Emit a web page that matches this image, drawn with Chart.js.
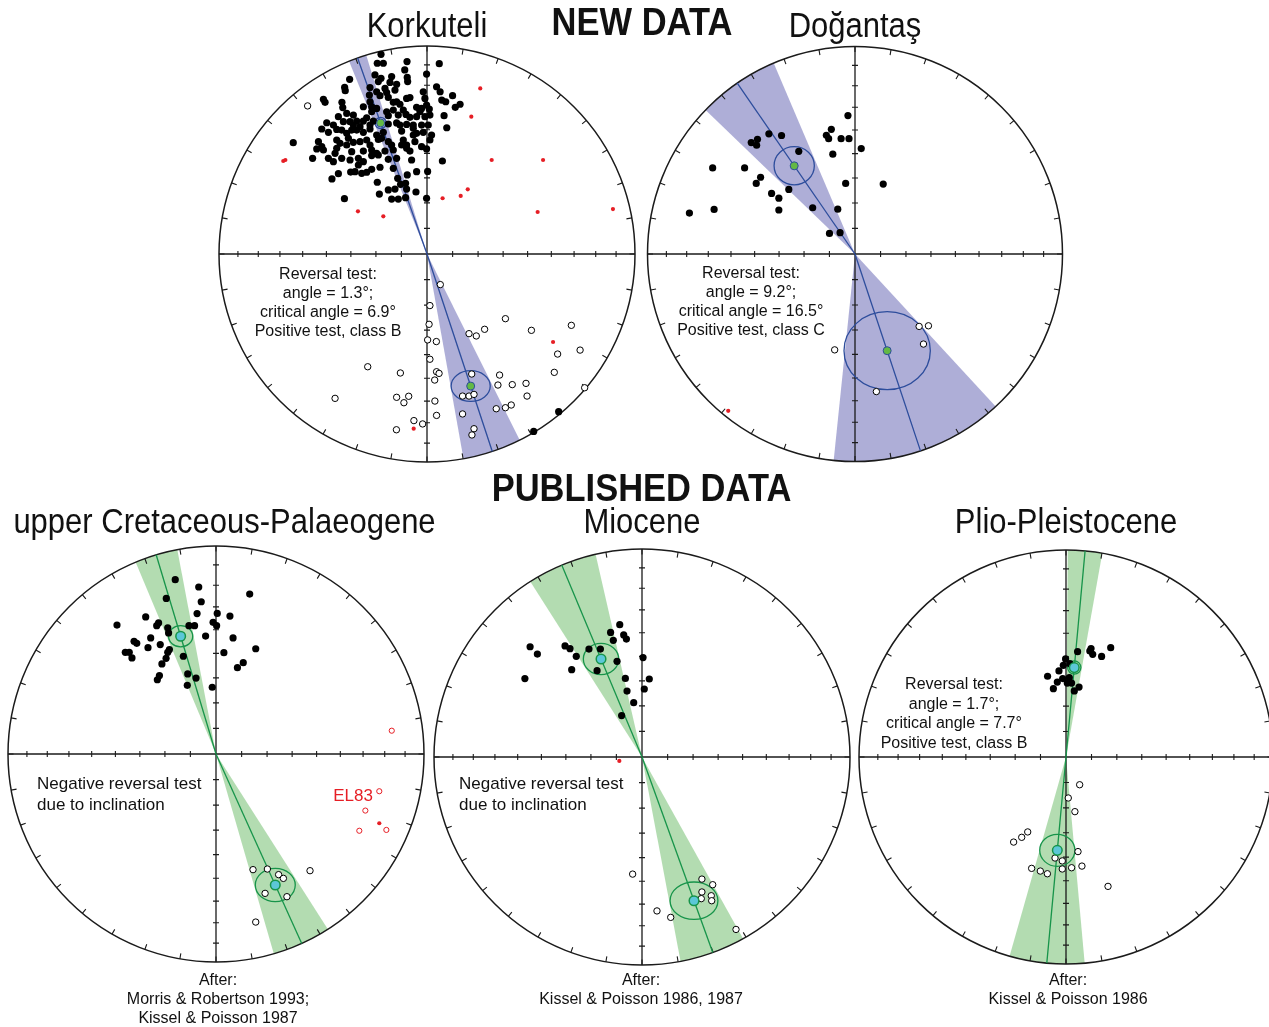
<!DOCTYPE html>
<html>
<head>
<meta charset="utf-8">
<title>Palaeomagnetic directions – reversal tests</title>
<script src="https://cdn.jsdelivr.net/npm/chart.js@4.4.1/dist/chart.umd.min.js"></script>
<style>
  html, body { margin: 0; padding: 0; background: #fff; overflow: hidden; }
  #page { position: relative; width: 1269px; height: 1027px; overflow: hidden;
          font-family: "Liberation Sans", Arial, Helvetica, sans-serif; color: #111; }
  canvas.net { position: absolute; }
  .t { position: absolute; white-space: nowrap; line-height: 1; transform: translate(-50%, -50%); }
  .title { font-size: 31px; transform: translate(-50%, -50%) scaleY(1.12); }
  .head { font-size: 34.5px; font-weight: bold; transform: translate(-50%, -50%) scaleY(1.1); }
  .note { position: absolute; white-space: nowrap; font-size: 16px; line-height: 19px;
          text-align: center; transform: translateX(-50%); }
  .neg { position: absolute; white-space: nowrap; font-size: 17px; line-height: 21px; }
</style>
</head>
<body>
<div id="page">
  <canvas class="net" id="korkuteli" width="440" height="440" style="left:207px;top:34px"></canvas>
  <canvas class="net" id="dogantas" width="440" height="440" style="left:635px;top:34px"></canvas>
  <canvas class="net" id="upperCret" width="440" height="440" style="left:-4px;top:534px"></canvas>
  <canvas class="net" id="miocene" width="440" height="440" style="left:422px;top:537px"></canvas>
  <canvas class="net" id="plio" width="440" height="440" style="left:846px;top:537px"></canvas>

  <div class="t title" style="left:427px;top:25px">Korkuteli</div>
  <div class="t head" style="left:642px;top:22px">NEW DATA</div>
  <div class="t title" style="left:855px;top:25px">Doğantaş</div>
  <div class="t head" style="left:641.5px;top:488px">PUBLISHED DATA</div>
  <div class="t title" style="left:224.5px;top:521px">upper Cretaceous-Palaeogene</div>
  <div class="t title" style="left:642px;top:521px">Miocene</div>
  <div class="t title" style="left:1066px;top:521px">Plio-Pleistocene</div>

  <div class="note" style="left:328px;top:263.5px">Reversal test:<br>angle = 1.3°;<br>critical angle = 6.9°<br>Positive test, class B</div>
  <div class="note" style="left:751px;top:262.5px">Reversal test:<br>angle = 9.2°;<br>critical angle = 16.5°<br>Positive test, class C</div>
  <div class="note" style="left:954px;top:674px;line-height:19.6px">Reversal test:<br>angle = 1.7°;<br>critical angle = 7.7°<br>Positive test, class B</div>
  <div class="neg" style="left:37px;top:772.5px">Negative reversal test<br>due to inclination</div>
  <div class="neg" style="left:459px;top:772.5px">Negative reversal test<br>due to inclination</div>
  <div class="t" style="left:353px;top:795px;font-size:17px;color:#e61e25">EL83</div>
  <div class="note" style="left:218px;top:969.5px">After:<br>Morris &amp; Robertson 1993;<br>Kissel &amp; Poisson 1987</div>
  <div class="note" style="left:641px;top:969.5px">After:<br>Kissel &amp; Poisson 1986, 1987</div>
  <div class="note" style="left:1068px;top:969.5px">After:<br>Kissel &amp; Poisson 1986</div>
</div>

<script>
// Equal-area projection coordinates (east, north) on the unit primitive circle.
// Filled = lower hemisphere (normal), open = upper hemisphere (reversed).

const declinationTicks = [0, 10, 20, 30, 40, 50, 60, 70, 80, 90, 100, 110, 120, 130, 140, 150, 160, 170,
  180, 190, 200, 210, 220, 230, 240, 250, 260, 270, 280, 290, 300, 310, 320, 330, 340, 350];
const inclinationTicks = [10, 20, 30, 40, 50, 60, 70, 80];

// ---- Korkuteli ----
const korkNormal = [
  [-0.221,0.960],[-0.239,0.917],[-0.210,0.917],[-0.096,0.925],[0.059,0.915],[-0.107,0.885],[-0.002,0.865],[-0.250,0.861],[-0.221,0.845],[-0.170,0.853],
  [-0.095,0.849],[-0.372,0.840],[-0.234,0.829],[-0.178,0.825],[-0.146,0.816],[-0.093,0.829],[-0.396,0.801],[-0.393,0.785],[-0.274,0.800],[-0.202,0.796],
  [-0.154,0.788],[-0.242,0.780],[-0.194,0.776],[0.046,0.804],[0.063,0.780],[-0.018,0.780],[-0.082,0.752],[-0.498,0.744],[-0.490,0.729],[-0.277,0.764],
  [-0.226,0.761],[-0.186,0.753],[-0.098,0.748],[-0.010,0.748],[0.071,0.740],[0.123,0.761],[0.090,0.732],[0.159,0.720],[0.136,0.705],[-0.409,0.729],
  [-0.405,0.704],[-0.306,0.708],[-0.274,0.732],[-0.266,0.708],[-0.242,0.700],[-0.162,0.729],[-0.146,0.732],[-0.130,0.720],[-0.050,0.705],[-0.026,0.700],
  [-0.002,0.716],[0.011,0.697],[-0.162,0.692],[-0.114,0.692],[-0.101,0.671],[0.082,0.665],[-0.386,0.676],[-0.426,0.660],[-0.354,0.668],[-0.290,0.655],
  [-0.266,0.684],[-0.194,0.684],[-0.186,0.665],[-0.138,0.668],[-0.050,0.660],[-0.010,0.660],[0.014,0.668],[-0.082,0.657],[-0.482,0.631],[-0.450,0.620],
  [-0.402,0.636],[-0.370,0.636],[-0.338,0.639],[-0.306,0.639],[-0.274,0.620],[-0.258,0.639],[-0.186,0.625],[-0.146,0.630],[-0.098,0.623],[-0.066,0.620],
  [-0.026,0.620],[0.006,0.620],[0.095,0.607],[-0.506,0.601],[-0.474,0.585],[-0.434,0.599],[-0.362,0.596],[-0.338,0.596],[-0.306,0.585],[-0.274,0.601],
  [-0.242,0.572],[-0.210,0.585],[-0.122,0.591],[-0.066,0.604],[-0.050,0.580],[-0.018,0.585],[0.022,0.572],[0.014,0.548],[-0.643,0.535],[-0.522,0.540],
  [-0.506,0.516],[-0.434,0.548],[-0.418,0.532],[-0.378,0.556],[-0.354,0.537],[-0.322,0.540],[-0.290,0.548],[-0.234,0.551],[-0.186,0.540],[-0.114,0.548],
  [-0.098,0.524],[-0.058,0.540],[-0.026,0.516],[-0.530,0.505],[-0.498,0.500],[-0.434,0.508],[-0.442,0.484],[-0.362,0.492],[-0.306,0.495],[-0.266,0.500],
  [-0.242,0.484],[-0.202,0.495],[-0.162,0.500],[-0.098,0.508],[-0.082,0.495],[-0.550,0.460],[-0.474,0.460],[-0.450,0.444],[-0.410,0.460],[-0.370,0.452],
  [-0.330,0.460],[-0.266,0.473],[-0.234,0.476],[-0.186,0.455],[-0.074,0.452],[0.074,0.447],[-0.367,0.394],[-0.346,0.396],[-0.314,0.388],[-0.290,0.393],
  [-0.266,0.407],[-0.226,0.417],[-0.162,0.412],[-0.050,0.396],[0.003,0.397],[-0.426,0.386],[-0.330,0.428],[-0.457,0.361],[-0.239,0.345],[-0.141,0.364],
  [-0.095,0.380],[-0.127,0.335],[-0.229,0.288],[-0.186,0.308],[-0.154,0.312],[-0.103,0.340],[-0.098,0.312],[-0.053,0.298],[-0.002,0.268],[-0.170,0.264],
  [-0.138,0.264],[-0.103,0.271],[-0.397,0.266],[-0.002,0.505],[-0.354,0.620],[-0.322,0.612],[-0.218,0.556],[-0.170,0.524],[-0.130,0.620],[-0.122,0.524],
  [-0.274,0.524],[-0.386,0.524],[-0.306,0.444],[-0.146,0.460],[-0.066,0.572],[-0.034,0.684],[-0.386,0.580],[-0.410,0.596],
  [0.633,-0.758],[0.513,-0.853]
];
const korkReversed = [
  [0.064,-0.147],[0.014,-0.248],[0.010,-0.338],[0.003,-0.413],[0.045,-0.421],[0.014,-0.506],[0.046,-0.566],[0.058,-0.574],[0.037,-0.606],[0.038,-0.707],
  [0.046,-0.776],[-0.021,-0.817],[-0.063,-0.801],[-0.147,-0.845],[-0.285,-0.542],[-0.128,-0.572],[-0.442,-0.694],[-0.146,-0.689],[-0.111,-0.715],[-0.088,-0.684],
  [0.202,-0.383],[0.237,-0.394],[0.277,-0.362],[0.377,-0.311],[0.502,-0.367],[0.694,-0.343],[0.736,-0.462],[0.628,-0.481],[0.612,-0.569],[0.758,-0.643],
  [0.349,-0.582],[0.341,-0.630],[0.410,-0.628],[0.476,-0.622],[0.481,-0.683],[0.215,-0.577],[0.171,-0.683],[0.202,-0.683],[0.226,-0.675],[0.333,-0.744],
  [0.377,-0.739],[0.405,-0.726],[0.171,-0.769],[0.226,-0.840],[0.216,-0.870],
  [-0.574,0.712]
];
const korkRejected = [
  [-0.691,0.447],[-0.681,0.452],[0.256,0.796],[0.213,0.660],[0.311,0.452],[0.558,0.452],[0.196,0.311],[0.162,0.279],
  [0.075,0.268],[0.532,0.202],[0.894,0.216],[-0.332,0.205],[-0.210,0.181],[0.606,-0.423],[-0.064,-0.840]
];
const korkMeans = [[-0.223,0.630],[0.210,-0.635]];
const korkA95 = [[0.027,0.027],[0.094,0.074]];
const korkConeHalfAngle = [2.5, 8.2];

// ---- Doğantaş ----
const doganNormal = [
  [-0.034,0.667],[-0.114,0.601],[-0.138,0.572],[-0.127,0.556],[-0.067,0.556],[-0.029,0.556],[0.030,0.508],[-0.107,0.481],[-0.354,0.571],[-0.415,0.579],
  [-0.470,0.553],[-0.500,0.537],[-0.474,0.524],[-0.271,0.495],[-0.686,0.415],[-0.532,0.415],[-0.455,0.370],[-0.476,0.340],[-0.319,0.311],[-0.402,0.292],
  [-0.367,0.269],[-0.367,0.212],[-0.204,0.223],[-0.083,0.216],[-0.045,0.340],[0.136,0.337],[-0.798,0.197],[-0.679,0.215],[-0.123,0.099],[-0.072,0.103]
];
const doganReversed = [[0.309,-0.349],[0.354,-0.346],[0.330,-0.434],[-0.098,-0.462],[0.103,-0.663]];
const doganRejected = [[-0.611,-0.756]];
const doganMeans = [[-0.293,0.425],[0.155,-0.466]];
const doganA95 = [[0.097,0.092],[0.208,0.188]];
const doganConeHalfAngle = [11.5, 24.3];

// ---- upper Cretaceous-Palaeogene ----
const ucNormal = [
  [-0.196,0.838],[-0.083,0.803],[-0.239,0.748],[-0.071,0.732],[0.162,0.769],[-0.091,0.675],[0.006,0.676],[0.067,0.663],[-0.338,0.659],[-0.476,0.620],
  [-0.285,0.617],[-0.276,0.630],[-0.232,0.607],[-0.228,0.582],[-0.130,0.617],[-0.103,0.617],[-0.014,0.633],[0.003,0.617],[-0.050,0.567],[0.082,0.558],
  [-0.314,0.558],[-0.394,0.542],[-0.381,0.532],[-0.268,0.526],[-0.327,0.511],[-0.224,0.502],[-0.232,0.489],[-0.436,0.489],[-0.417,0.489],[-0.404,0.462],
  [-0.240,0.460],[-0.157,0.470],[0.038,0.487],[0.191,0.506],[-0.260,0.433],[0.131,0.439],[0.103,0.415],[-0.272,0.377],[-0.282,0.357],[-0.136,0.385],
  [-0.096,0.365],[-0.138,0.330],[-0.018,0.321]
];
const ucReversed = [[0.178,-0.556],[0.247,-0.553],[0.301,-0.580],[0.324,-0.598],[0.452,-0.561],[0.236,-0.670],[0.341,-0.686],[0.191,-0.808]];
const el83Reversed = [[0.845,0.112],[0.785,-0.179],[0.718,-0.272],[0.689,-0.369],[0.819,-0.365]];
const el83Normal = [[0.785,-0.333]];
const ucMeans = [[-0.170,0.566],[0.285,-0.630]];
const ucA95 = [[0.058,0.051],[0.096,0.080]];
const ucConeHalfAngle = [6.0, 8.2];

// ---- Miocene ----
const mioNormal = [
  [-0.107,0.636],[-0.151,0.599],[-0.088,0.587],[-0.075,0.567],[-0.138,0.561],[-0.538,0.530],[-0.503,0.495],[-0.370,0.534],[-0.346,0.521],[-0.255,0.519],
  [-0.200,0.519],[-0.316,0.484],[-0.120,0.460],[0.005,0.478],[-0.338,0.420],[-0.216,0.415],[-0.563,0.377],[-0.080,0.378],[0.035,0.375],[-0.072,0.317],
  [0.011,0.327],[-0.040,0.261],[-0.098,0.199]
];
const mioReversed = [[-0.045,-0.563],[0.288,-0.587],[0.340,-0.614],[0.288,-0.649],[0.285,-0.681],[0.333,-0.667],[0.335,-0.691],[0.072,-0.740],[0.138,-0.771],[0.452,-0.829]];
const mioRejected = [[-0.109,-0.019]];
const mioMeans = [[-0.197,0.471],[0.250,-0.691]];
const mioA95 = [[0.085,0.075],[0.115,0.090]];
const mioConeHalfAngle = [9.8, 9.2];

// ---- Plio-Pleistocene ----
const plioNormal = [
  [0.056,0.509],[0.121,0.524],[0.129,0.496],[0.172,0.486],[0.216,0.528],[-0.002,0.474],[-0.013,0.443],[-0.034,0.416],[-0.089,0.390],[-0.042,0.362],
  [-0.061,0.330],[0.016,0.383],[0.027,0.357],[0.063,0.338],[0.040,0.319],[0.006,0.357],[0.019,0.451],[-0.016,0.379],[0.115,0.512]
];
const plioReversed = [
  [0.066,-0.134],[0.011,-0.198],[0.043,-0.264],[-0.185,-0.362],[-0.214,-0.388],[-0.253,-0.411],[0.058,-0.457],[-0.053,-0.488],[-0.018,-0.502],[-0.166,-0.538],
  [-0.124,-0.551],[-0.090,-0.564],[-0.018,-0.541],[0.027,-0.535],[0.077,-0.527],[0.203,-0.625]
];
const plioMeans = [[0.040,0.432],[-0.042,-0.451]];
const plioA95 = [[0.032,0.032],[0.085,0.077]];
const plioConeHalfAngle = [4.8, 10.5];

// ---- styles ----
const BLUE = { line: '#2d4d9c', cone: 'rgba(160,160,208,0.85)', meanFill: '#63b944', meanBorder: '#2d4d9c' };
const GREEN = { line: '#17944a', cone: 'rgba(166,214,163,0.85)', meanFill: '#5cc7d7', meanBorder: '#17944a' };
const RED = '#e61e25';

const xy = arr => arr.map(p => ({ x: p[0], y: p[1] }));

// Primitive circle, axes, graduation ticks, confidence cones and ellipses
const stereonetPlugin = {
  id: 'stereonet',
  beforeDatasetsDraw(chart, args, opts) {
    const { ctx } = chart;
    const sx = chart.scales.x, sy = chart.scales.y;
    const cx = sx.getPixelForValue(0), cy = sy.getPixelForValue(0);
    const r = sx.getPixelForValue(1) - cx;
    ctx.save();

    // cones of confidence about the mean declinations
    ctx.fillStyle = opts.cone;
    opts.means.forEach((m, i) => {
      const a = Math.atan2(m[1], m[0]);
      const h = opts.halfAngles[i] * Math.PI / 180;
      ctx.beginPath();
      ctx.moveTo(cx, cy);
      ctx.arc(cx, cy, r, -(a + h), -(a - h));
      ctx.closePath();
      ctx.fill();
    });

    // net
    ctx.strokeStyle = '#1b1b1b';
    ctx.lineWidth = 1.5;
    ctx.beginPath();
    ctx.arc(cx, cy, r, 0, Math.PI * 2);
    ctx.stroke();
    ctx.lineWidth = 1.3;
    ctx.beginPath();
    ctx.moveTo(cx - r, cy); ctx.lineTo(cx + r, cy);
    ctx.moveTo(cx, cy - r); ctx.lineTo(cx, cy + r);
    ctx.stroke();

    ctx.lineWidth = 1.1;
    ctx.beginPath();
    declinationTicks.forEach(d => {
      const t = d * Math.PI / 180;
      const ux = Math.sin(t), uy = -Math.cos(t);
      ctx.moveTo(cx + ux * r, cy + uy * r);
      ctx.lineTo(cx + ux * (r - 5.5), cy + uy * (r - 5.5));
    });
    inclinationTicks.forEach(inc => {
      const rr = Math.SQRT2 * Math.sin((90 - inc) / 2 * Math.PI / 180) * r;
      ctx.moveTo(cx + rr, cy - 3); ctx.lineTo(cx + rr, cy + 3);
      ctx.moveTo(cx - rr, cy - 3); ctx.lineTo(cx - rr, cy + 3);
      ctx.moveTo(cx - 3, cy + rr); ctx.lineTo(cx + 3, cy + rr);
      ctx.moveTo(cx - 3, cy - rr); ctx.lineTo(cx + 3, cy - rr);
    });
    ctx.stroke();

    // alpha-95 ellipses
    ctx.strokeStyle = opts.line;
    ctx.lineWidth = 1.3;
    opts.means.forEach((m, i) => {
      const px = sx.getPixelForValue(m[0]), py = sy.getPixelForValue(m[1]);
      const ex = sx.getPixelForValue(m[0] + opts.a95[i][0]) - px;
      const ey = py - sy.getPixelForValue(m[1] + opts.a95[i][1]);
      ctx.beginPath();
      ctx.ellipse(px, py, ex, ey, 0, 0, Math.PI * 2);
      ctx.stroke();
    });
    ctx.restore();
  }
};

function drawNet(canvasId, radiusPx, set) {
  const lim = 220 / radiusPx;
  const datasets = [];
  set.means.forEach(m => {
    const len = Math.hypot(m[0], m[1]);
    datasets.push({
      data: [{ x: 0, y: 0 }, { x: m[0] / len, y: m[1] / len }],
      showLine: true, borderColor: set.style.line, borderWidth: 1.3,
      pointRadius: 0, order: 10
    });
  });
  datasets.push({ data: xy(set.normal), pointRadius: 3.6, backgroundColor: '#000', borderColor: '#000', borderWidth: 0, order: 3 });
  datasets.push({ data: xy(set.reversed), pointRadius: 3.2, backgroundColor: '#fff', borderColor: '#000', borderWidth: 1, order: 2 });
  if (set.rejected) {
    datasets.push({ data: xy(set.rejected), pointRadius: 2.1, backgroundColor: RED, borderColor: RED, borderWidth: 0, order: 4 });
  }
  if (set.rejectedOpen) {
    datasets.push({ data: xy(set.rejectedOpen), pointRadius: 2.6, backgroundColor: '#fff', borderColor: RED, borderWidth: 1, order: 4 });
  }
  datasets.push({
    data: xy(set.means), pointRadius: set.meanRadius,
    backgroundColor: set.style.meanFill, borderColor: set.style.meanBorder,
    borderWidth: set.meanBorder, order: 0
  });

  new Chart(document.getElementById(canvasId), {
    type: 'scatter',
    data: { datasets },
    options: {
      responsive: false,
      animation: false,
      devicePixelRatio: 1,
      events: [],
      layout: { padding: 0, autoPadding: false },
      scales: {
        x: { type: 'linear', min: -lim, max: lim, display: false },
        y: { type: 'linear', min: -lim, max: lim, display: false }
      },
      plugins: {
        legend: { display: false },
        tooltip: { enabled: false },
        stereonet: {
          means: set.means, a95: set.a95, halfAngles: set.halfAngles,
          cone: set.style.cone, line: set.style.line
        }
      }
    },
    plugins: [stereonetPlugin]
  });
}

drawNet('korkuteli', 208, {
  normal: korkNormal, reversed: korkReversed, rejected: korkRejected,
  means: korkMeans, a95: korkA95, halfAngles: korkConeHalfAngle,
  style: BLUE, meanRadius: 4, meanBorder: 1
});
drawNet('dogantas', 207.5, {
  normal: doganNormal, reversed: doganReversed, rejected: doganRejected,
  means: doganMeans, a95: doganA95, halfAngles: doganConeHalfAngle,
  style: BLUE, meanRadius: 4, meanBorder: 1
});
drawNet('upperCret', 208, {
  normal: ucNormal, reversed: ucReversed, rejected: el83Normal, rejectedOpen: el83Reversed,
  means: ucMeans, a95: ucA95, halfAngles: ucConeHalfAngle,
  style: GREEN, meanRadius: 4.8, meanBorder: 1.5
});
drawNet('miocene', 208, {
  normal: mioNormal, reversed: mioReversed, rejected: mioRejected,
  means: mioMeans, a95: mioA95, halfAngles: mioConeHalfAngle,
  style: GREEN, meanRadius: 4.8, meanBorder: 1.5
});
drawNet('plio', 207, {
  normal: plioNormal, reversed: plioReversed,
  means: plioMeans, a95: plioA95, halfAngles: plioConeHalfAngle,
  style: GREEN, meanRadius: 4.8, meanBorder: 1.5
});
</script>
</body>
</html>
